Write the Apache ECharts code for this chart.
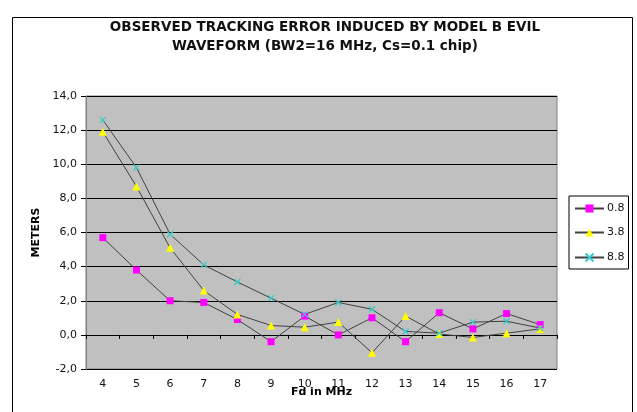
<!DOCTYPE html>
<html>
<head>
<meta charset="utf-8">
<script src="https://cdn.jsdelivr.net/npm/echarts@6/dist/echarts.min.js"></script>
<style>
  html, body { margin: 0; padding: 0; background: #fff; }
  #chart { width: 637px; height: 412px; }
</style>
</head>
<body>
<div id="chart"></div>
<script>
const categories = ['4', '5', '6', '7', '8', '9', '10', '11', '12', '13', '14', '15', '16', '17']
const seriesNames = ['0.8', '3.8', '8.8']
const values08 = [5.7, 3.8, 2.0, 1.9, 0.9, -0.4, 1.1, 0.0, 1.0, -0.4, 1.3, 0.35, 1.25, 0.6]
const values38 = [11.9, 8.7, 5.1, 2.6, 1.2, 0.55, 0.45, 0.75, -1.05, 1.1, 0.05, -0.15, 0.1, 0.35]
const values88 = [12.6, 9.8, 5.9, 4.1, 3.1, 2.15, 1.2, 1.9, 1.5, 0.2, 0.1, 0.75, 0.8, 0.4]

const chart = echarts.init(document.getElementById('chart'))

const lineColor = '#404040'
const font = 'DejaVu Sans, Liberation Sans, sans-serif'

const makeSeries = (name, data, symbol, size, color, stroke) => ({
  name: name,
  type: 'line',
  data: data,
  symbol: symbol,
  symbolSize: size,
  showAllSymbol: true,
  lineStyle: { color: lineColor, width: 1 },
  itemStyle: stroke
    ? { color: 'none', borderColor: color, borderWidth: 1.2 }
    : { color: color, borderWidth: 0 },
  emphasis: { disabled: true },
  z: 3,
})

const option = {
  animation: false,
  backgroundColor: '#fff',
  textStyle: { fontFamily: font },
  title: {
    text: 'OBSERVED TRACKING ERROR INDUCED BY MODEL B EVIL\nWAVEFORM (BW2=16 MHz, Cs=0.1 chip)',
    left: 320,
    textAlign: 'center',
    top: 13,
    textStyle: {
      fontFamily: font,
      fontSize: 13.5,
      fontWeight: 'bold',
      color: '#111',
      lineHeight: 19,
    },
  },
  graphic: [
    {
      type: 'rect',
      shape: { x: 12.5, y: 17.5, width: 620, height: 420 },
      style: { fill: 'none', stroke: '#000', lineWidth: 1 },
      silent: true,
    },
  ],
  legend: {
    orient: 'vertical',
    left: 569,
    top: 196,
    padding: [7, 4, 5, 5],
    itemGap: 13,
    itemWidth: 29,
    itemHeight: 10,
    backgroundColor: '#fff',
    borderColor: '#000',
    borderWidth: 1,
    borderRadius: 0,
    data: seriesNames,
    textStyle: { fontFamily: font, fontSize: 11, color: '#111', padding: [0, 0, 0, -2] },
  },
  grid: {
    left: 86,
    right: 80,
    top: 96,
    bottom: 43,
    show: true,
    backgroundColor: '#c0c0c0',
    borderColor: '#808080',
    borderWidth: 1,
    containLabel: false,
    outerBoundsMode: 'none',
  },
  xAxis: {
    type: 'category',
    data: categories,
    boundaryGap: true,
    name: 'Fd in MHz',
    nameLocation: 'middle',
    nameGap: 18,
    nameMoveOverlap: false,
    nameTextStyle: { fontFamily: font, fontSize: 11, fontWeight: 'bold', color: '#000' },
    axisLine: { onZero: true, lineStyle: { color: '#000', width: 1 } },
    axisTick: { show: true, alignWithLabel: false, length: 4, lineStyle: { color: '#000' } },
    axisLabel: { fontFamily: font, fontSize: 11, color: '#111', margin: 10 },
    splitLine: { show: false },
  },
  yAxis: {
    type: 'value',
    min: -2,
    max: 14,
    interval: 2,
    name: 'METERS',
    nameLocation: 'middle',
    nameGap: 44,
    nameRotate: 90,
    nameTextStyle: { fontFamily: font, fontSize: 11, fontWeight: 'bold', color: '#000' },
    axisLine: { show: true, onZero: false, lineStyle: { color: '#808080' } },
    axisTick: { show: true, length: 5, lineStyle: { color: '#000' } },
    axisLabel: {
      fontFamily: font,
      fontSize: 11,
      color: '#111',
      margin: 9,
      formatter: (v) => v.toFixed(1).replace('.', ','),
    },
    splitLine: { show: true, lineStyle: { color: '#000', width: 1 } },
  },
  series: [
    makeSeries(seriesNames[0], values08, 'rect', 7, '#ff00ff', false),
    makeSeries(seriesNames[1], values38, 'triangle', 8, '#ffff00', false),
    makeSeries(seriesNames[2], values88, 'path://M0,0L10,10M10,0L0,10', 6, '#33cccc', true),
  ],
}

chart.setOption(option)
</script>
</body>
</html>
